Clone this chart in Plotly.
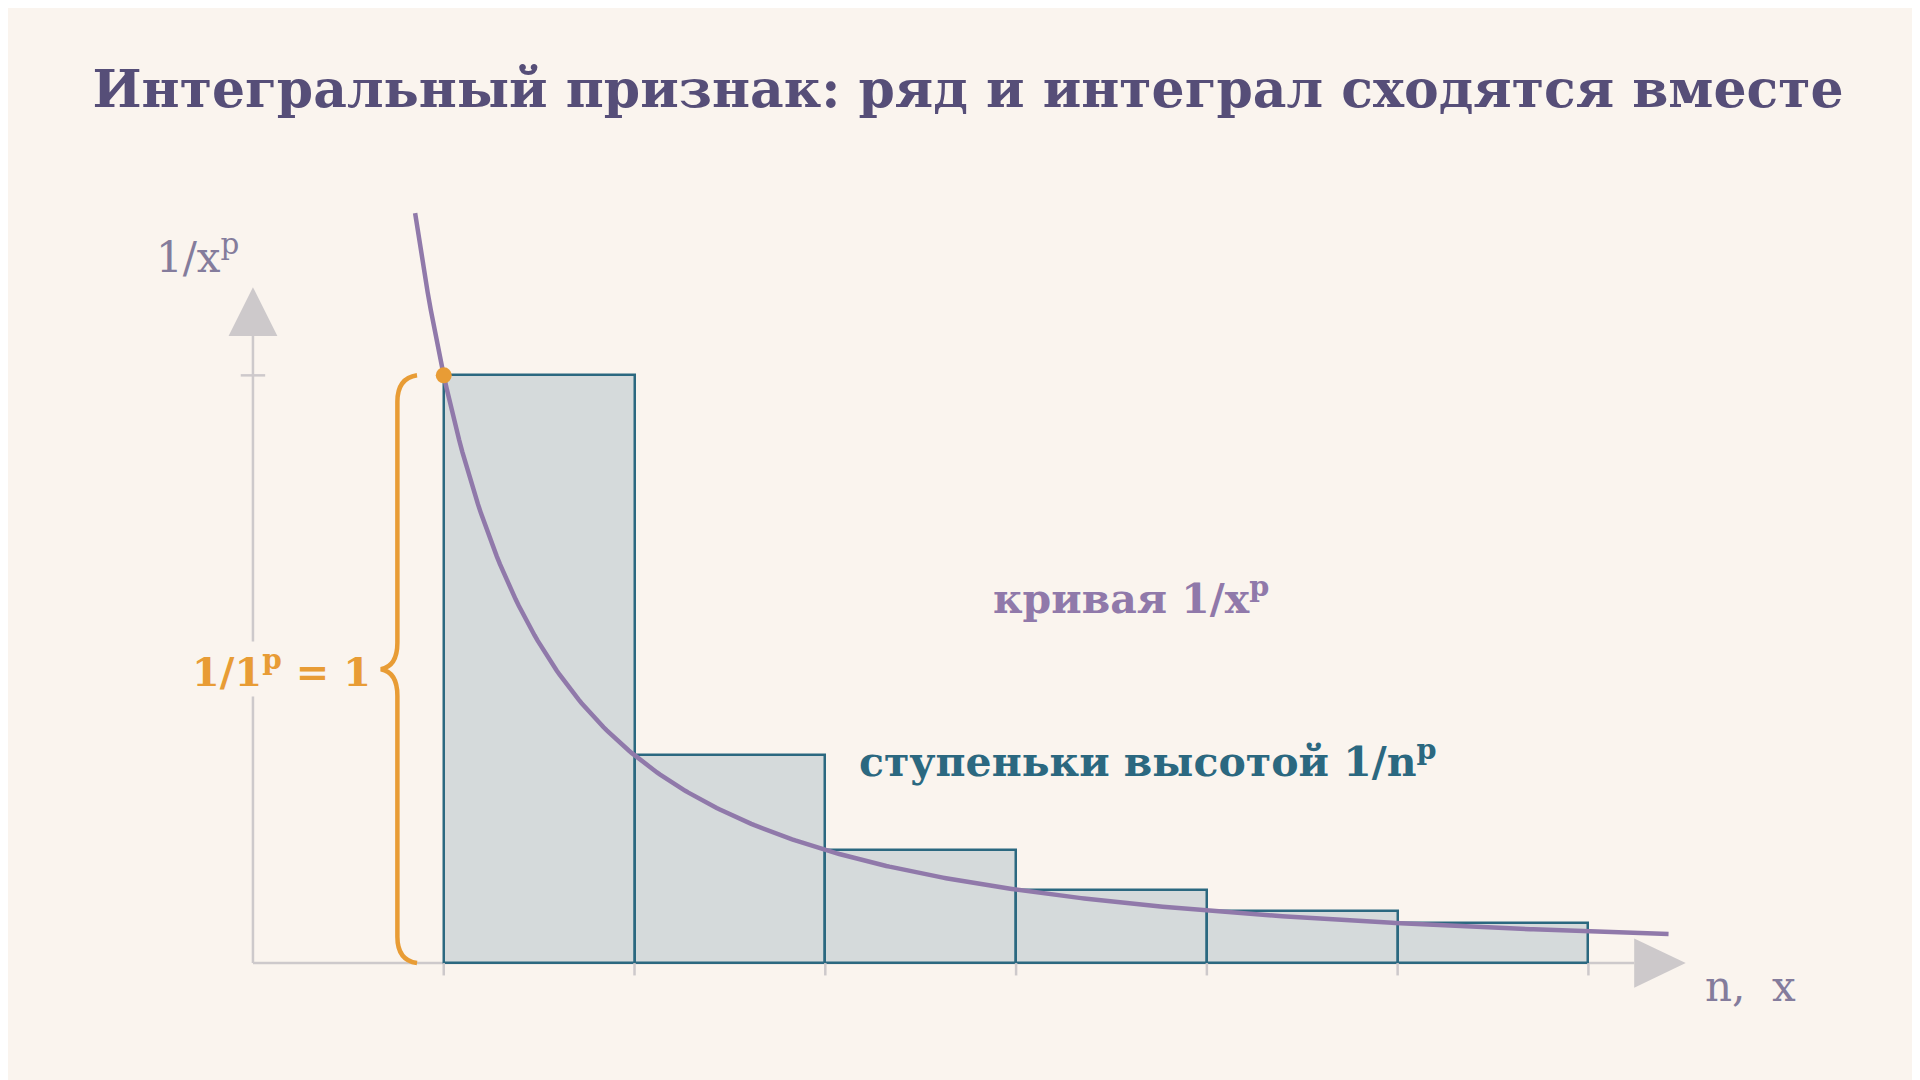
import numpy as np
import plotly.graph_objects as go

# data
n_values = [1, 2, 3, 4, 5, 6]
step_heights = [1.0, 0.354, 0.192, 0.125, 0.089, 0.068]
p_exp = 1.5
curve_x_start, curve_x_end = 0.85, 7.42
x_ticks = [1, 2, 3, 4, 5, 6, 7]

BG = "#faf4ee"
TITLE_C = "#564e78"
BAR_FILL = "#d5dadb"
BAR_LINE = "#2b6880"
CURVE_C = "#9079aa"
ORANGE = "#e89c35"
AXIS_C = "#cdc9cb"
LABEL_C = "#847c9c"
SERIF = "DejaVu Serif"

fig = go.Figure()

fig.add_trace(go.Bar(x=[n + 0.5 for n in n_values], y=step_heights, width=1.0,
                     marker=dict(color=BAR_FILL, line=dict(color=BAR_LINE, width=2.5)),
                     hoverinfo="skip"))

cx = np.linspace(curve_x_start, curve_x_end, 400)
fig.add_trace(go.Scatter(x=cx, y=cx ** (-p_exp), mode="lines",
                         line=dict(color=CURVE_C, width=4.5), hoverinfo="skip"))
fig.add_trace(go.Scatter(x=[1], y=[1], mode="markers",
                         marker=dict(color=ORANGE, size=16), hoverinfo="skip"))

shapes = []
shapes.append(dict(type="line", x0=0, x1=0, y0=0, y1=1.067, line=dict(color=AXIS_C, width=2.5), layer="below"))
shapes.append(dict(type="line", x0=0, x1=7.24, y0=0, y1=0, line=dict(color=AXIS_C, width=2.5), layer="below"))
shapes.append(dict(type="path", path="M 0 1.15 L -0.128 1.067 L 0.128 1.067 Z", fillcolor=AXIS_C, line=dict(width=0)))
shapes.append(dict(type="path", path="M 7.51 0 L 7.24 0.042 L 7.24 -0.042 Z", fillcolor=AXIS_C, line=dict(width=0)))
shapes.append(dict(type="line", x0=-0.064, x1=0.064, y0=1, y1=1, line=dict(color=AXIS_C, width=2.5)))
for t in x_ticks:
    shapes.append(dict(type="line", x0=t, x1=t, y0=0, y1=-0.021, line=dict(color=AXIS_C, width=2.5)))
bx, tip, right = 0.757, 0.67, 0.86
brace = (f"M {right} 1 Q {bx} 0.995 {bx} 0.955 L {bx} 0.545 Q {bx} 0.505 {tip} 0.5 "
         f"Q {bx} 0.495 {bx} 0.455 L {bx} 0.045 Q {bx} 0.005 {right} 0")
shapes.append(dict(type="path", path=brace, line=dict(color=ORANGE, width=4.5)))

ann = [
    dict(x=-0.29, y=1.205, text="1/x<sup>p</sup>", font=dict(family=SERIF, size=42, color=LABEL_C)),
    dict(x=7.85, y=-0.04, text="n,  x", font=dict(family=SERIF, size=42, color=LABEL_C)),
    dict(x=4.6, y=0.625, text="<b>кривая 1/x<sup>p</sup></b>", font=dict(family=SERIF, size=41, color=CURVE_C)),
    dict(x=4.69, y=0.348, text="<b>ступеньки высотой 1/n<sup>p</sup></b>", font=dict(family=SERIF, size=41, color=BAR_LINE)),
    dict(x=0.15, y=0.5, text="<b>1/1<sup>p</sup> = 1</b>", font=dict(family=SERIF, size=40, color=ORANGE),
         bgcolor=BG),
]
for a in ann:
    a.update(xref="x", yref="y", showarrow=False)

fig.update_layout(
    width=1920, height=1080,
    paper_bgcolor=BG, plot_bgcolor=BG,
    margin=dict(l=0, r=0, t=0, b=0),
    showlegend=False, bargap=0,
    xaxis=dict(range=[-1.284, 8.780], visible=False, fixedrange=True),
    yaxis=dict(range=[-0.2125, 1.625], visible=False, fixedrange=True),
    shapes=shapes, annotations=ann,
    title=dict(text="<b>Интегральный признак: ряд и интеграл сходятся вместе</b>",
               x=0.5, xanchor="center", y=0.925, yanchor="middle",
               font=dict(family=SERIF, size=52, color=TITLE_C)),
)

fig.write_html("out.html")
